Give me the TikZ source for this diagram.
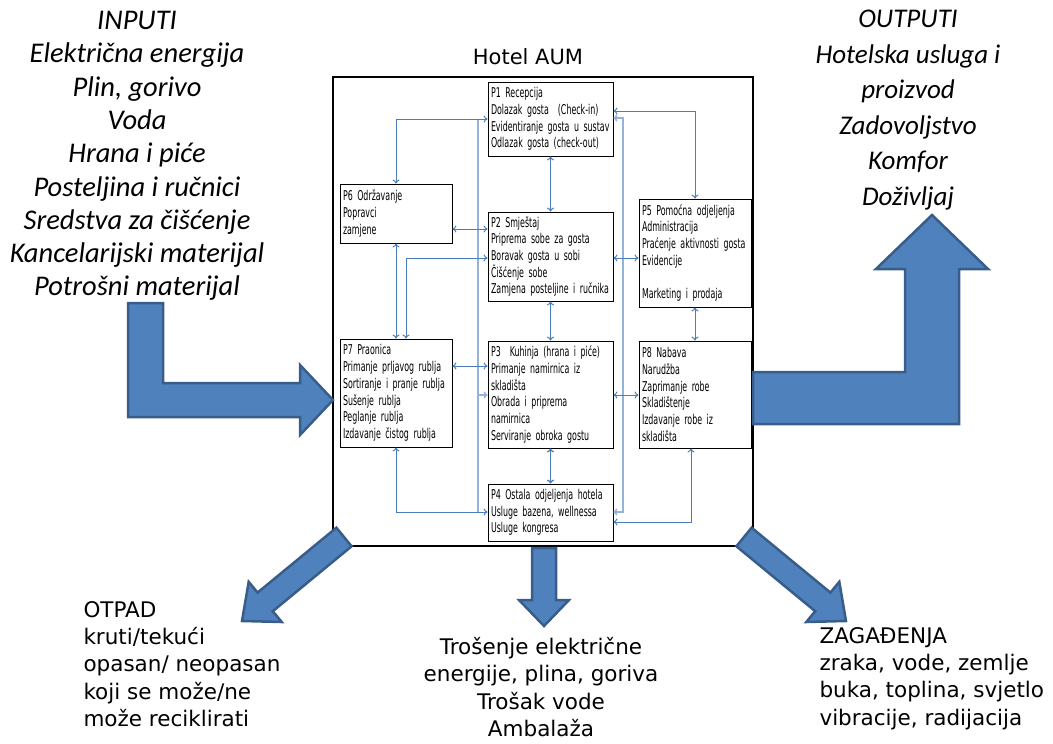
\documentclass[tikz,border=0pt]{standalone}
\usepackage{fontspec}
\usepackage{xcolor}
\usepackage{tikz}
\usetikzlibrary{arrows.meta}
\setmainfont{DejaVu Sans}
\newfontfamily\calfont{Carlito}
\newfontfamily\boxfont[FakeStretch=0.585]{DejaVu Sans}
\definecolor{linkblue}{RGB}{74,126,187}
\definecolor{busblue}{RGB}{149,179,215}
\definecolor{arrowfill}{RGB}{79,129,189}
\definecolor{arrowline}{RGB}{56,93,138}

\begin{document}
\begin{tikzpicture}[x=1pt, y=-1pt, >={To[length=4pt,width=7pt]},
  proc/.style={draw, line width=0.8pt, fill=white, inner xsep=3pt, inner ysep=0pt, align=left, font=\boxfont\fontsize{13.5}{16.7}\selectfont},
  link/.style={draw=linkblue, line width=1pt},
  bus/.style={draw=busblue, line width=1.6pt},
  bigarrow/.style={fill=arrowfill, draw=arrowline, line width=2.5pt, line join=miter},
  intext/.style={font=\calfont\itshape\fontsize{28.5}{33.3}\selectfont, align=center},
  outtext/.style={font=\fontsize{21.5}{27.2}\selectfont, align=left}]
\useasboundingbox (0,0) rectangle (1053,744);

\node[draw, line width=2.5pt, minimum width=420pt, minimum height=469pt, inner sep=0pt] (hotel) at (543,311.5) {};
\node[font=\fontsize{21}{25}\selectfont] (title) at (528,57) {Hotel AUM};

\node[proc, minimum height=74pt, text width=119pt] (p1) at (550.5,119) {P1 Recepcija\\ Dolazak gosta~ (Check-in)\\ Evidentiranje gosta u sustav\\ Odlazak gosta (check-out)};
\node[proc, minimum height=89pt, text width=119pt] (p2) at (550.5,256.5) {P2 Smještaj\\ Priprema sobe za gosta\\ Boravak gosta u sobi\\ Čišćenje sobe\\ Zamjena posteljine i ručnika};
\node[proc, minimum height=107pt, text width=119pt] (p3) at (550.5,394.5) {P3~ Kuhinja (hrana i piće)\\ Primanje namirnica iz\\ skladišta\\ Obrada i priprema\\ namirnica\\ Serviranje obroka gostu};
\node[proc, minimum height=57pt, text width=119pt] (p4) at (550.5,512.5) {P4 Ostala odjeljenja hotela\\ Usluge bazena, wellnessa\\ Usluge kongresa};
\node[proc, minimum height=108pt, text width=106pt] (p5) at (695,253) {P5 Pomoćna odjeljenja\\ Administracija\\ Praćenje aktivnosti gosta\\ Evidencije\\[16.7pt] Marketing i prodaja};
\node[proc, minimum height=59pt, text width=106pt] (p6) at (396,213.5) {P6 Održavanje\\ Popravci\\ zamjene};
\node[proc, minimum height=108pt, text width=106pt] (p7) at (396,393) {P7 Praonica\\ Primanje prljavog rublja\\ Sortiranje i pranje rublja\\ Sušenje rublja\\ Peglanje rublja\\ Izdavanje čistog rublja};
\node[proc, minimum height=107pt, text width=106pt] (p8) at (695,394.5) {P8 Nabava\\ Narudžba\\ Zaprimanje robe\\ Skladištenje\\ Izdavanje robe iz\\ skladišta};

\coordinate (lbus) at (478,0);
\coordinate (rbus) at (623,0);
\draw[bus] (lbus |- p1.west) -- (lbus |- 0,512);
\draw[bus,->] (lbus |- 0,395) -- (p3.west |- 0,395);
\draw[bus,<->] (p1.east |- 0,118) -- (rbus |- 0,118) -- (rbus |- 0,512) -- (p4.east |- 0,512);

\draw[link,<->] (p1) -- (p2);
\draw[link,<->] (p2) -- (p3);
\draw[link,<->, line width=1.3pt] (p3) -- (p4);
\draw[link,<->] (p6.north) |- (p1.west);
\draw[link,<->] (p6.east |- 0,229) -- (p2.west |- 0,229);
\draw[link,<->] (p6) -- (p7);
\draw[link,<->] (p7.north -| 406,0) |- (p2.west |- 0,258);
\draw[link,<->] (p7.east |- 0,366) -- (p3.west |- 0,366);
\draw[link,<->] (p7.south) |- (p4.west |- 0,512);
\draw[link,<->] (p1.east |- 0,111) -| (p5.north);
\draw[link,<->] (p2.east |- 0,258) -- (p5.west |- 0,258);
\draw[link,<->] (p5) -- (p8);
\draw[link,<->] (p3.east |- 0,395) -- (p8.west |- 0,395);
\draw[link,<->] (p8.south -| 691,0) |- (p4.east |- 0,522);

\draw[bigarrow] (128,303) -- (163,303) -- (163,383) -- (300,383) -- (300,365) -- (333,400) -- (300,435) -- (300,417) -- (128,417) -- cycle;
\draw[bigarrow] (753,372) -- (905,372) -- (905,269) -- (876,269) -- (932,215) -- (988,269) -- (959,269) -- (959,424) -- (753,424) -- cycle;
\draw[bigarrow] (351.6,546.3) -- (272.8,611.2) -- (281.7,622) -- (242,621) -- (248.7,581.8) -- (257.6,592.6) -- (336.4,527.7) -- cycle;
\draw[bigarrow] (736.4,546.3) -- (815.2,611.2) -- (806.3,622) -- (846,621) -- (839.3,581.8) -- (830.4,592.6) -- (751.6,527.7) -- cycle;
\draw[bigarrow] (532,548) -- (556,548) -- (556,600) -- (569,600) -- (544,626) -- (519,600) -- (532,600) -- cycle;

\node[intext] (inputs) at (137,156) {INPUTI\\ Električna energija\\ Plin, gorivo\\ Voda\\ Hrana i piće\\ Posteljina i ručnici\\ Sredstva za čišćenje\\ Kancelarijski materijal\\ Potrošni materijal};
\node[intext, font=\calfont\itshape\fontsize{27}{35.5}\selectfont] (outputs) at (908,110) {OUTPUTI\\ Hotelska usluga i\\ proizvod\\ Zadovoljstvo\\ Komfor\\ Doživljaj};
\node[outtext, anchor=west] (otpad) at (80,664) {OTPAD\\ kruti/tekući\\ opasan/ neopasan\\ koji se može/ne\\ može reciklirati};
\node[outtext, align=center] (trosak) at (541,687) {Trošenje električne\\ energije, plina, goriva\\ Trošak vode\\ Ambalaža};
\node[outtext, anchor=west] (zagadjenja) at (816,678.5) {ZAGAĐENJA\\ zraka, vode, zemlje\\ buka, toplina, svjetlo\\ vibracije, radijacija};
\end{tikzpicture}
\end{document}
